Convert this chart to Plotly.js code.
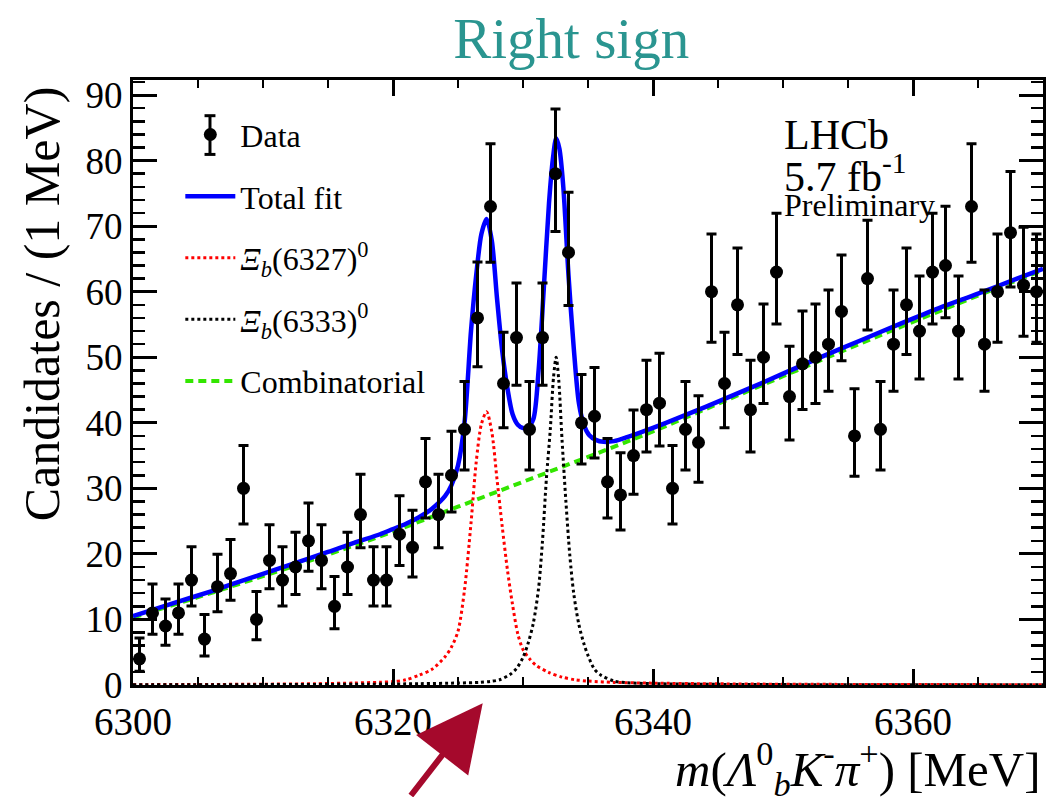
<!DOCTYPE html>
<html><head><meta charset="utf-8">
<script src="https://cdn.plot.ly/plotly-3.0.1.min.js"></script>
<style>html,body{margin:0;padding:0;background:#fff}</style>
</head><body><div id="chart" style="width:1050px;height:797px"></div>
<script>
// ---- Data (bin centres, 1 MeV bins) ----
const massBins = [6300.5,6301.5,6302.5,6303.5,6304.5,6305.5,6306.5,6307.5,6308.5,6309.5,
  6310.5,6311.5,6312.5,6313.5,6314.5,6315.5,6316.5,6317.5,6318.5,6319.5,
  6320.5,6321.5,6322.5,6323.5,6324.5,6325.5,6326.5,6327.5,6328.5,6329.5,
  6330.5,6331.5,6332.5,6333.5,6334.5,6335.5,6336.5,6337.5,6338.5,6339.5,
  6340.5,6341.5,6342.5,6343.5,6344.5,6345.5,6346.5,6347.5,6348.5,6349.5,
  6350.5,6351.5,6352.5,6353.5,6354.5,6355.5,6356.5,6357.5,6358.5,6359.5,
  6360.5,6361.5,6362.5,6363.5,6364.5,6365.5,6366.5,6367.5,6368.5,6369.5];
const counts = [4,11,9,11,16,7,15,17,30,10,
  19,16,18,22,19,12,18,26,16,16,
  23,21,31,26,32,39,56,73,46,53,
  39,53,78,66,40,41,31,29,35,42,
  43,30,39,37,60,46,58,42,50,63,
  44,49,50,52,57,38,62,39,52,58,
  54,63,64,54,73,52,60,69,61,60];

// ---- Total fit ----
const fitMass = [6300,6303,6306,6309,6312,6315,6317,6319,6320,6321,
  6322,6323,6324,6324.5,6325,6325.5,6326,6326.4,6326.8,6327.2,
  6327.6,6328,6328.4,6328.8,6329.2,6329.6,6330,6330.4,6330.8,6331.2,
  6331.6,6332,6332.3,6332.55,6332.8,6333.1,6333.5,6333.9,6334.3,6334.7,
  6335.1,6335.6,6336.2,6337,6338,6339,6341,6344,6347,6350,
  6353,6356,6359,6362,6365,6368,6370];
const totalFit = [10.5,12.4,14.3,16.3,18.3,20.3,21.7,23.0,23.8,24.6,
  25.6,26.9,28.8,30.5,33.5,40.0,54.0,62.5,68.8,71.1,
  67.8,59.0,51.0,45.3,41.3,39.7,39.2,39.4,40.6,48.0,
  60.5,73.5,80.3,83.4,81.8,76.0,62.5,51.5,43.0,39.6,
  38.1,37.4,37.1,37.2,37.8,38.5,40.0,42.4,44.9,47.5,
  50.1,52.6,55.1,57.5,59.7,62.0,63.5];

// ---- Combinatorial ----
const combMass = [6300,6305,6310,6315,6320,6325,6330,6335,6340,6345,6350,6355,6360,6365,6370];
const combFit  = [10.3,13.4,16.6,19.9,23.4,27.2,31.0,34.8,38.7,42.9,47.1,51.3,55.4,59.4,63.3];

// ---- Xi_b(6327)^0 ----
const xi6327Mass = [6300,6305,6310,6314,6317,6319,6320,6321,6322,6323,
  6324,6324.5,6325,6325.5,6326,6326.4,6326.8,6327.2,6327.6,6328,
  6328.4,6328.8,6329.2,6329.6,6330,6330.5,6331,6332,6333,6334,
  6335,6337,6340,6345,6350,6360,6370];
const xi6327Fit = [0.05,0.08,0.12,0.2,0.3,0.42,0.5,0.8,1.5,2.4,
  4.3,5.8,8.2,14.5,24.7,34.0,39.8,41.7,38.6,31.4,
  24.2,17.6,12.2,7.8,5.4,4.0,3.0,1.9,1.2,0.8,
  0.6,0.4,0.28,0.18,0.12,0.07,0.05];

// ---- Xi_b(6333)^0 ----
const xi6333Mass = [6300,6310,6318,6322,6325,6326.7,6327.5,6328.2,6329,6329.5,
  6330,6330.4,6330.8,6331.2,6331.5,6331.8,6332.1,6332.35,6332.55,6332.75,
  6333,6333.3,6333.6,6333.9,6334.3,6334.7,6335,6335.5,6336,6337,
  6338,6340,6345,6350,6360,6370];
const xi6333Fit = [0.03,0.06,0.12,0.2,0.3,0.4,0.55,0.8,1.6,2.5,
  4.2,6.4,9.5,14.8,22.0,31.5,39.0,47.0,50.0,46.5,
  37.5,28.0,19.8,14.0,9.2,6.2,4.5,2.4,1.5,0.6,
  0.35,0.2,0.1,0.06,0.04,0.03];

const xTickVals = [6300,6320,6340,6360];
const xTickText = ['6300','6320','6340','6360'];

// Poisson (Garwood) asymmetric errors on the counts
const errUp = counts.map(n => { const m = n + 1; return m*Math.pow(1 - 1/(9*m) + 1/(3*Math.sqrt(m)), 3) - n; });
const errDn = counts.map(n => n === 0 ? 0 : n - n*Math.pow(1 - 1/(9*n) - 1/(3*Math.sqrt(n)), 3));

const SERIF = 'Liberation Serif';

const traces = [
  {x: combMass, y: combFit, type: 'scatter', mode: 'lines', name: 'Combinatorial',
   line: {color: '#33e600', width: 4, dash: '8px,5px', shape: 'spline'}, legendrank: 5, legendgroup: 'g5'},
  {x: xi6327Mass, y: xi6327Fit, type: 'scatter', mode: 'lines',
   name: '<i>Ξ</i><sub><i>b</i></sub>(6327)<sup>0</sup>',
   line: {color: '#ff0000', width: 3, dash: 'dot', shape: 'spline', smoothing: 0.8}, legendrank: 3, legendgroup: 'g3'},
  {x: xi6333Mass, y: xi6333Fit, type: 'scatter', mode: 'lines',
   name: '<i>Ξ</i><sub><i>b</i></sub>(6333)<sup>0</sup>',
   line: {color: '#000000', width: 3, dash: 'dot', shape: 'spline', smoothing: 0.8}, legendrank: 4, legendgroup: 'g4'},
  {x: fitMass, y: totalFit, type: 'scatter', mode: 'lines', name: 'Total fit',
   line: {color: '#0000ff', width: 4.5, shape: 'spline', smoothing: 0.8}, legendrank: 2, legendgroup: 'g2'},
  {x: massBins, y: counts, type: 'scatter', mode: 'markers', name: 'Data',
   marker: {color: '#000000', size: 13, symbol: 'circle'},
   error_y: {type: 'data', symmetric: false, array: errUp, arrayminus: errDn, color: '#000000', thickness: 3, width: 5},
   legendrank: 1, legendgroup: 'g1'}
];

// legend glyph decoration: error bar through the "Data" legend marker (paper coords)
const legBarX = 0.0846, legBarY0 = 0.877, legBarY1 = 0.941, legCap = 0.006;

const layout = {
  width: 1050, height: 797,
  margin: {l: 133, r: 7, t: 80, b: 112},
  paper_bgcolor: '#ffffff', plot_bgcolor: '#ffffff',
  font: {family: SERIF, color: '#000'},
  showlegend: true,
  title: {text: 'Right sign', font: {family: SERIF, size: 57, color: '#2a9590'},
          x: 0.544, xanchor: 'center', xref: 'container', y: 0.952, yanchor: 'middle', yref: 'container'},
  xaxis: {
    range: [6300, 6370], tickmode: 'array', tickvals: xTickVals, ticktext: xTickText,
    ticks: 'inside', ticklen: 16, tickwidth: 3, tickcolor: '#000',
    minor: {dtick: 5, tick0: 6300, ticks: 'inside', ticklen: 8, tickwidth: 2.5, tickcolor: '#000'},
    showline: true, linewidth: 3, linecolor: '#000', mirror: 'ticks',
    showgrid: false, zeroline: false,
    tickfont: {family: SERIF, size: 39, color: '#000'}
  },
  yaxis: {
    range: [0, 92.3], dtick: 10, tick0: 0,
    ticks: 'inside', ticklen: 24, tickwidth: 3, tickcolor: '#000',
    minor: {dtick: 2, ticks: 'inside', ticklen: 12, tickwidth: 2.5, tickcolor: '#000'},
    showline: true, linewidth: 3, linecolor: '#000', mirror: 'ticks',
    showgrid: false, zeroline: false,
    tickfont: {family: SERIF, size: 37, color: '#000'}
  },
  legend: {x: 0.052, y: 0.955, xanchor: 'left', yanchor: 'top', bgcolor: 'rgba(0,0,0,0)',
           font: {family: SERIF, size: 32, color: '#000'}, traceorder: 'grouped', tracegroupgap: 17,
           itemwidth: 50},
  shapes: [
    {type: 'line', xref: 'paper', yref: 'paper', x0: legBarX, x1: legBarX, y0: legBarY0, y1: legBarY1,
     line: {color: '#000', width: 3}},
    {type: 'line', xref: 'paper', yref: 'paper', x0: legBarX - legCap, x1: legBarX + legCap, y0: legBarY0, y1: legBarY0,
     line: {color: '#000', width: 3}},
    {type: 'line', xref: 'paper', yref: 'paper', x0: legBarX - legCap, x1: legBarX + legCap, y0: legBarY1, y1: legBarY1,
     line: {color: '#000', width: 3}}
  ],
  annotations: [
    {text: '<i>m</i>(<i>Λ</i><sup>0</sup><sub><i>b</i></sub><i>K</i><sup>-</sup><i>π</i><sup>+</sup>) [MeV]',
     xref: 'paper', yref: 'paper', x: 1.0, y: -0.138, xanchor: 'right', yanchor: 'middle',
     showarrow: false, font: {family: SERIF, size: 49, color: '#000'}},
    {text: 'Candidates / (1 MeV)', textangle: -90,
     xref: 'paper', yref: 'paper', x: -0.1, y: 0.992, xanchor: 'center', yanchor: 'top',
     showarrow: false, font: {family: SERIF, size: 50, color: '#000'}},
    {text: 'LHCb', xref: 'paper', yref: 'paper', x: 0.713, y: 0.909, xanchor: 'left', yanchor: 'middle',
     showarrow: false, font: {family: SERIF, size: 42, color: '#000'}},
    {text: '5.7 fb<sup>-1</sup>', xref: 'paper', yref: 'paper', x: 0.713, y: 0.845, xanchor: 'left', yanchor: 'middle',
     showarrow: false, font: {family: SERIF, size: 42, color: '#000'}},
    {text: 'Preliminary', xref: 'paper', yref: 'paper', x: 0.713, y: 0.793, xanchor: 'left', yanchor: 'middle',
     showarrow: false, font: {family: SERIF, size: 32, color: '#000'}},
    {text: '', xref: 'x', yref: 'paper', x: 6326.9, y: -0.03, showarrow: true,
     ax: -73, ay: 100, axref: 'pixel', ayref: 'pixel', arrowhead: 2, arrowsize: 2.2, arrowwidth: 6,
     arrowcolor: '#a5092c', standoff: 0}
  ]
};

Plotly.newPlot('chart', traces, layout, {displayModeBar: false, staticPlot: true});
</script>
</body></html>
